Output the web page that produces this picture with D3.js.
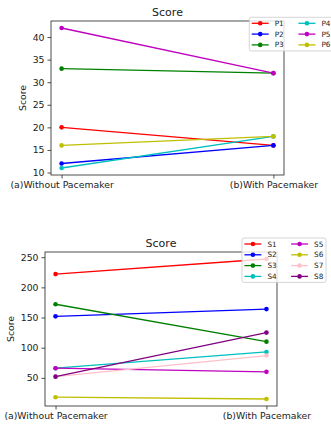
<!DOCTYPE html>
<html lang="en">
<head>
<meta charset="UTF-8">
<title>Score</title>
<script src="https://d3js.org/d3.v7.min.js"></script>
<style>
  body { margin: 0; background: #fff; }
  text { font-family: "DejaVu Sans", sans-serif; fill: #222; }
</style>
</head>
<body>
<div id="chart"></div>
<script>
// categories on the x axis
const categories = ["(a)Without Pacemaker", "(b)With Pacemaker"];

// top chart: P series (without, with)
const pNames = ["P1", "P2", "P3", "P4", "P5", "P6"];
const pValues = [[20, 16], [12, 16], [33, 32], [11, 18], [42, 32], [16, 18]];
const pColors = ["#ff0000", "#0000ff", "#008000", "#00bfbf", "#bf00bf", "#bfbf00"];
const pTicks = [10, 15, 20, 25, 30, 35, 40];

// bottom chart: S series
const sNames = ["S1", "S2", "S3", "S4", "S5", "S6", "S7", "S8"];
const sValues = [[222, 247], [152, 164], [172, 110], [66, 93], [66, 60], [18, 15], [52, 87], [52, 125]];
const sColors = ["#ff0000", "#0000ff", "#008000", "#00bfbf", "#bf00bf", "#bfbf00", "#ffc0cb", "#800080"];
const sTicks = [50, 100, 150, 200, 250];

const svg = d3.select("#chart").append("svg")
    .attr("width", 331)
    .attr("height", 426);

function panel(opts) {
    const g = svg.append("g");
    const x = d3.scaleLinear().domain([-0.05, 1.05]).range([opts.left, opts.right]);
    // 5% margins like matplotlib
    const all = opts.values.flat();
    const lo = d3.min(all), hi = d3.max(all), pad = (hi - lo) * 0.05;
    const y = d3.scaleLinear().domain([lo - pad, hi + pad]).range([opts.bottom, opts.top]);

    // lines + markers
    opts.values.forEach((v, i) => {
        const pts = v.map((d, j) => [x(j), y(d)]);
        g.append("path")
            .attr("d", d3.line()(pts))
            .attr("fill", "none")
            .attr("stroke", opts.colors[i])
            .attr("stroke-width", 1.3);
        g.selectAll(null).data(pts).enter().append("circle")
            .attr("cx", d => d[0]).attr("cy", d => d[1]).attr("r", 2.3)
            .attr("fill", opts.colors[i]);
    });

    // frame
    g.append("rect")
        .attr("x", opts.left).attr("y", opts.top)
        .attr("width", opts.right - opts.left).attr("height", opts.bottom - opts.top)
        .attr("fill", "none").attr("stroke", "#222").attr("stroke-width", 0.8);

    // y axis
    const ya = g.append("g").attr("transform", `translate(${opts.left},0)`)
        .call(d3.axisLeft(y).tickValues(opts.ticks).tickSize(3.5).tickPadding(3));
    ya.select(".domain").remove();
    ya.selectAll("text").style("font-size", "9.3px").attr("font-family", "DejaVu Sans");
    ya.selectAll("line").attr("stroke", "#222").attr("stroke-width", 0.8);

    // x axis
    const xa = g.append("g").attr("transform", `translate(0,${opts.bottom})`)
        .call(d3.axisBottom(x).tickValues([0, 1]).tickFormat(i => categories[i]).tickSize(3.5).tickPadding(2.5));
    xa.select(".domain").remove();
    xa.selectAll("text").style("font-size", "9.3px").attr("font-family", "DejaVu Sans");
    xa.selectAll("line").attr("stroke", "#222").attr("stroke-width", 0.8);

    // title
    g.append("text")
        .attr("x", (opts.left + opts.right) / 2).attr("y", opts.top - 5)
        .attr("text-anchor", "middle").style("font-size", "11px").text("Score");

    // y label
    g.append("text")
        .attr("transform", `translate(${opts.ylabelX},${(opts.top + opts.bottom) / 2}) rotate(-90)`)
        .attr("text-anchor", "middle").style("font-size", "9.3px").text("Score");

    // legend
    const rows = Math.ceil(opts.names.length / 2);
    const lg = g.append("g").attr("transform", `translate(${opts.legX},${opts.legY})`);
    lg.append("rect")
        .attr("x", 0).attr("y", 0).attr("rx", 2)
        .attr("width", opts.legW).attr("height", 12 + (rows - 1) * 10.8)
        .attr("fill", "rgba(255,255,255,0.8)").attr("stroke", "#cccccc").attr("stroke-width", 0.8);
    opts.names.forEach((n, i) => {
        const col = Math.floor(i / rows), row = i % rows;
        const lx = 2.4 + col * 46.7, ly = 6 + row * 10.8;
        lg.append("line").attr("x1", lx).attr("x2", lx + 17).attr("y1", ly).attr("y2", ly)
            .attr("stroke", opts.colors[i]).attr("stroke-width", 1.3);
        lg.append("circle").attr("cx", lx + 8.5).attr("cy", ly).attr("r", 2.3).attr("fill", opts.colors[i]);
        lg.append("text").attr("x", lx + 23).attr("y", ly + 2.6)
            .style("font-size", "7.3px").text(n);
    });
}

panel({
    left: 51, right: 284, top: 21, bottom: 175,
    values: pValues, colors: pColors, names: pNames, ticks: pTicks,
    ylabelX: 26, legX: 249.3, legY: 17.3, legW: 90
});

panel({
    left: 45, right: 277, top: 252, bottom: 406,
    values: sValues, colors: sColors, names: sNames, ticks: sTicks,
    ylabelX: 14, legX: 242, legY: 238, legW: 84
});
</script>
</body>
</html>
